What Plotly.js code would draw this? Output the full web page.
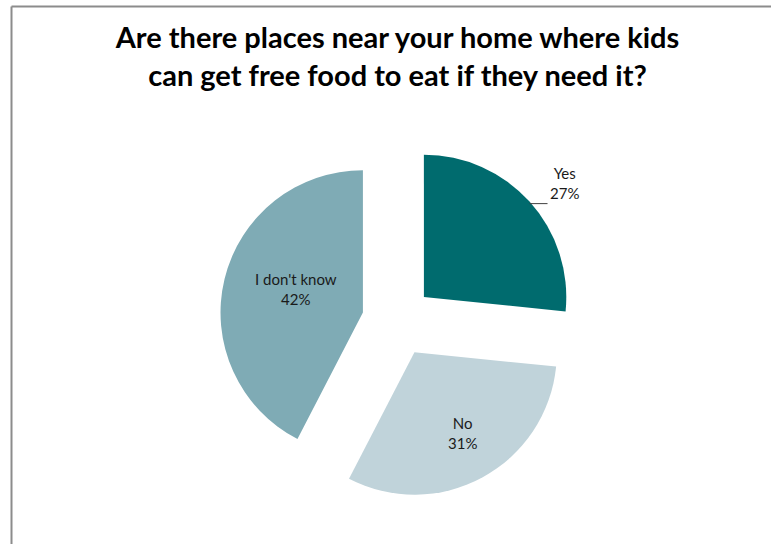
<!DOCTYPE html>
<html>
<head>
<meta charset="utf-8">
<script src="https://cdn.plot.ly/plotly-3.0.1.min.js"></script>
<style>
html, body { margin: 0; padding: 0; background: #ffffff; }
#chart { width: 771px; height: 544px; }
</style>
</head>
<body>
<div id="chart"></div>
<script>
const labels = ["Yes", "No", "I don't know"];
const values = [26.6, 31.0, 42.4];
const percentLabels = ["27%", "31%", "42%"];
const colors = ["#006B6E", "#C0D3DA", "#7FABB5"];
const titleText = "Are there places near your home where kids<br>can get free food to eat if they need it?";

// label placement styling (not data): outside label for slice 0, inside labels for others
const labelMode = ["outside", "inside", "inside"];
const labelRadiusFrac = [1.0, 0.66, 0.5];
const labelAngleShiftDeg = [0, -2, 6];

const PULL = 0.25;
const FONT = "Lato, 'Open Sans', sans-serif";
const LABEL_FONT = { family: FONT, size: 15, color: "#1a1a1a" };

const trace = {
  type: "pie",
  labels: labels,
  values: values,
  sort: false,
  direction: "clockwise",
  rotation: 0,
  pull: labels.map(() => PULL),
  marker: { colors: colors, line: { width: 0 } },
  textinfo: "none",
  hoverinfo: "label+percent",
  showlegend: false
};

const ml = 40, mr = 16, mt = 143, mb = 45;
const pw = 771 - ml - mr, ph = 544 - mt - mb;
const px = v => (v - ml) / pw;
const py = v => 1 - (v - mt) / ph;

const layout = {
  width: 771,
  height: 544,
  margin: { l: ml, r: mr, t: mt, b: mb },
  paper_bgcolor: "#ffffff",
  plot_bgcolor: "#ffffff",
  title: {
    text: titleText,
    font: { family: FONT, size: 29, color: "#000000", weight: "bold" },
    xref: "paper",
    x: 0.5,
    xanchor: "center",
    yref: "container",
    y: 0.912,
    yanchor: "top"
  },
  shapes: [
    { type: "line", xref: "paper", yref: "paper", x0: px(11.5), x1: px(775), y0: py(6.5), y1: py(6.5), line: { color: "#8c8c8c", width: 2 } },
    { type: "line", xref: "paper", yref: "paper", x0: px(11.5), x1: px(11.5), y0: py(6.5), y1: py(548), line: { color: "#8c8c8c", width: 2 } }
  ]
};

const gd = document.getElementById("chart");
Plotly.newPlot(gd, [trace], layout, { displayModeBar: false, staticPlot: true }).then(() => {
  // Labels placed from the pie geometry that Plotly computed for the data.
  const cd0 = gd.calcdata[0][0];
  const r = cd0.r, cx = cd0.cx, cy = cd0.cy;
  const sz = gd._fullLayout._size;
  const total = values.reduce((a, b) => a + b, 0);
  const toPaper = (X, Y) => ({ x: (X - sz.l) / sz.w, y: 1 - (Y - sz.t) / sz.h });

  let start = 0;
  const anns = [];
  values.forEach((v, i) => {
    const span = (v / total) * 2 * Math.PI;
    const mid = start + span / 2;
    start += span;
    // pulled slice apex
    const ax0 = cx + PULL * r * Math.sin(mid);
    const ay0 = cy - PULL * r * Math.cos(mid);
    const text = labels[i] + "<br>" + percentLabels[i];
    if (labelMode[i] === "outside") {
      const tipX = ax0 + r * Math.sin(mid);
      const tipY = ay0 - r * Math.cos(mid);
      const p = toPaper(tipX, tipY);
      anns.push({
        xref: "paper", yref: "paper", x: p.x, y: p.y, text: text,
        showarrow: true, arrowhead: 0, arrowwidth: 1, arrowcolor: "#404040",
        ax: 18, ay: 0, xanchor: "left", yanchor: "bottom", align: "center",
        standoff: 0, yshift: -2, font: LABEL_FONT
      });
    } else {
      const a = mid + labelAngleShiftDeg[i] * Math.PI / 180;
      const d = labelRadiusFrac[i] * r;
      const p = toPaper(ax0 + d * Math.sin(a), ay0 - d * Math.cos(a));
      anns.push({
        xref: "paper", yref: "paper", x: p.x, y: p.y, text: text,
        showarrow: false, xanchor: "center", yanchor: "middle", align: "center",
        font: LABEL_FONT
      });
    }
  });
  return Plotly.relayout(gd, { annotations: anns });
});
</script>
</body>
</html>
